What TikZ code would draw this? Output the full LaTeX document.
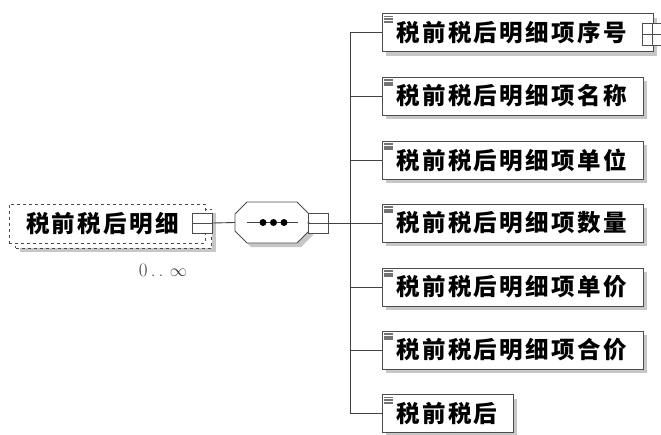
\documentclass[tikz,border=0pt]{standalone}
\usepackage{fontspec}
\newfontfamily\cjk{Noto Sans CJK SC}[LetterSpace=10]
\usetikzlibrary{positioning,shadows,calc}
\tikzset{
  boxline/.style={draw=black!70,line width=0.9pt},
  shade4/.style={drop shadow={shadow xshift=4pt,shadow yshift=-4pt,
    fill=black!22,opacity=1}},
  elbox/.style={boxline,fill=white,shade4,anchor=west,minimum height=38pt,
    inner xsep=14pt,inner ysep=0pt,text width=#1,align=left,
    font=\fontsize{23.5}{26}\cjk\bfseries,
    path picture={\foreach \k in {0,1,2}{
      \draw[black!55,line width=1.9pt]
        ([xshift=2pt,yshift={-3pt-2.6pt*\k}]path picture bounding box.north west)
        -- ++(9pt,0);}}},
  rootbox/.style={draw=black!70,dashed,line width=0.8pt,fill=white,
    minimum width=196pt,minimum height=39pt,inner sep=0pt,
    font=\fontsize{23.5}{26}\cjk\bfseries},
  ctlbox/.style={boxline,fill=white,minimum width=20pt,minimum height=20pt,
    inner sep=0pt,
    path picture={\draw[black!70,line width=0.9pt]
      (path picture bounding box.west) -- (path picture bounding box.east);}},
  plusbox/.style={ctlbox,
    path picture={\draw[black!70,line width=0.9pt]
      (path picture bounding box.west) -- (path picture bounding box.east)
      (path picture bounding box.north) -- (path picture bounding box.south);}},
  conn/.style={draw=black!75,line width=0.9pt},
  seqdot/.style={circle,fill=black,inner sep=0pt,minimum size=7pt},
  mult/.style={font=\fontsize{19}{21}\selectfont,text=black!75,inner sep=0pt},
}
\begin{document}
\begin{tikzpicture}[x=1pt,y=-1pt]
  \useasboundingbox (0,0) rectangle (661,434);
  % root element (0..unbounded)
  \node[rootbox,shade4] (rootb) at (113.5,228.5) {};
  \node[rootbox] (root) at (107,223.5) {\hspace*{-9pt}税前税后明细};
  \node[ctlbox] (rootctl) at (202.5,223) {};
  \node[mult] (rootmult) at (163,270) {0\,.\,.\,\,$\infty$};
  % sequence compositor
  \node[minimum width=74pt,minimum height=41pt,inner sep=0pt] (seq) at (272,222.5) {};
  \begin{scope}[shift={(seq.center)}]
    \fill[black!22,shift={(4,4)}] (-25,-20.5) -- (25,-20.5) -- (37,-8.5) -- (37,8.5)
      -- (25,20.5) -- (-25,20.5) -- (-37,8.5) -- (-37,-8.5) -- cycle;
    \draw[boxline,fill=white] (-25,-20.5) -- (25,-20.5) -- (37,-8.5) -- (37,8.5)
      -- (25,20.5) -- (-25,20.5) -- (-37,8.5) -- (-37,-8.5) -- cycle;
    \draw[conn] (-25,0) -- (26,0);
    \node[seqdot] (d1) at (-9,0) {};
    \node[seqdot] (d2) at (1.5,0) {};
    \node[seqdot] (d3) at (12,0) {};
  \end{scope}
  \node[ctlbox] (seqctl) at (318,223) {};
  \coordinate (trunk) at (350,223);
  % child elements
  \node[elbox=243pt] (c1) at (382,32.5) {\mbox{税前税后明细项序号}};
  \node[elbox=233pt] (c2) at (382,96) {\mbox{税前税后明细项名称}};
  \node[elbox=233pt] (c3) at (382,160) {\mbox{税前税后明细项单位}};
  \node[elbox=233pt] (c4) at (382,223) {\mbox{税前税后明细项数量}};
  \node[elbox=233pt] (c5) at (382,287) {\mbox{税前税后明细项单价}};
  \node[elbox=233pt] (c6) at (382,350) {\mbox{税前税后明细项合价}};
  \node[elbox=103pt] (c7) at (382,413.5) {\mbox{税前税后}};
  \node[plusbox,minimum width=20pt,minimum height=22pt] (c1ctl) at (652,34) {};
  % connectors
  \draw[conn] (rootctl.east) -- (seq.west);
  \draw[conn] (seq.east) -- (seqctl.west);
  \draw[conn] (seqctl.east) -- (trunk);
  \draw[conn] (c1.west -| trunk) -- (c7.west -| trunk);
  \foreach \i in {1,...,7}
    \draw[conn] (c\i.west -| trunk) -- (c\i.west);
\end{tikzpicture}
\end{document}
